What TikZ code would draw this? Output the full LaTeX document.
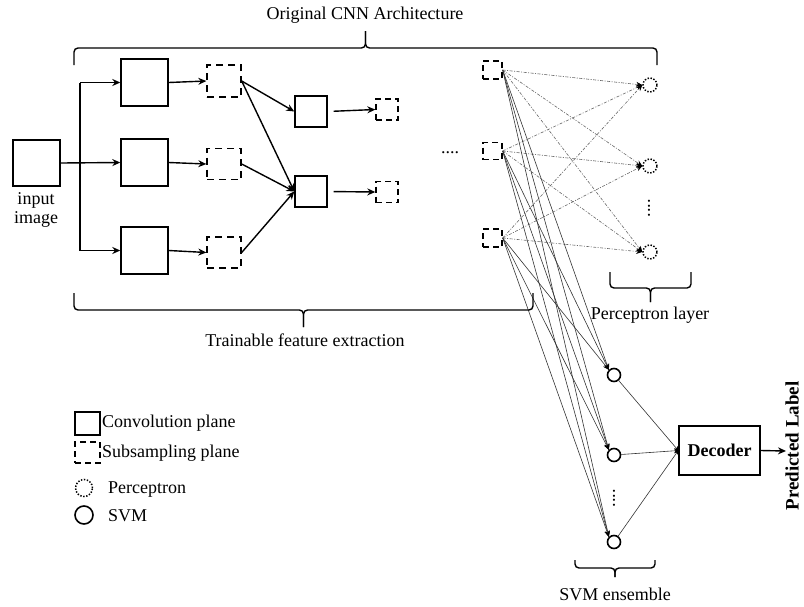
\documentclass[tikz,border=0pt]{standalone}
\usepackage{fontspec}
\setmainfont{Liberation Serif}
\usetikzlibrary{arrows.meta}
\begin{document}
\begin{tikzpicture}[x=1pt,y=-1pt,
  every node/.style={font=\fontsize{18}{20}\selectfont},
  plane/.style={draw, line width=1.4pt, inner sep=0pt},
  subplane/.style={draw, line width=1.4pt, inner sep=0pt, dash pattern=on 7pt off 5pt},
  percnode/.style={draw, circle, line width=1.5pt, dash pattern=on 1.4pt off 1.6pt, minimum size=14pt, inner sep=0pt},
  svmnode/.style={draw, circle, line width=1.6pt, minimum size=13pt, inner sep=0pt},
  thickarrow/.style={line width=1.4pt, -{Stealth[length=8pt,width=7pt]}},
  perclink/.style={draw=black!60, line width=0.6pt, dash pattern=on 3pt off 1.5pt on 1pt off 1.5pt, -{Stealth[length=6pt,width=5pt,black]}},
  svmlink/.style={draw=black!80, line width=0.6pt, -{Stealth[length=6pt,width=5pt,black]}},
  declink/.style={draw=black!80, line width=0.6pt, -{Stealth[length=4pt,width=5pt,black]}},
  bracepath/.style={line width=1.4pt, rounded corners=4pt}
]
\useasboundingbox (0,0) rectangle (804,606);

% input
\node[plane, minimum width=47pt, minimum height=46pt] (in) at (36.5,163) {};
\node[align=center, inner sep=0pt] (inlbl) at (36,210) {input\\[-1pt]image};

% first convolution planes
\node[plane, minimum width=47pt, minimum height=47pt] (c1a) at (144.5,82.5) {};
\node[plane, minimum width=47pt, minimum height=47pt] (c1b) at (144.5,162.5) {};
\node[plane, minimum width=47pt, minimum height=47pt] (c1c) at (144.5,250.5) {};
% first subsampling planes
\node[subplane, minimum width=34pt, minimum height=32pt] (s1a) at (224,81) {};
\node[subplane, minimum width=34pt, minimum height=31pt] (s1b) at (224,164) {};
\node[subplane, minimum width=34pt, minimum height=31pt] (s1c) at (224,252.5) {};
% second convolution planes
\node[plane, minimum width=32pt, minimum height=31pt] (c2a) at (311,111.5) {};
\node[plane, minimum width=32pt, minimum height=31pt] (c2b) at (311,191.5) {};
% second subsampling planes
\node[subplane, minimum width=22pt, minimum height=21pt, dash pattern=on 6pt off 4pt] (s2a) at (387,109.5) {};
\node[subplane, minimum width=22pt, minimum height=21pt, dash pattern=on 6pt off 4pt] (s2b) at (387,192) {};
% dots
\node (hdots) at (450,153) {....};
% last subsampling planes
\node[subplane, minimum width=19pt, minimum height=18pt, dash pattern=on 6pt off 4pt] (s3a) at (492.5,70) {};
\node[subplane, minimum width=19pt, minimum height=17pt, dash pattern=on 6pt off 4pt] (s3b) at (492.5,151) {};
\node[subplane, minimum width=19pt, minimum height=18pt, dash pattern=on 6pt off 4pt] (s3c) at (492.5,238) {};

% perceptrons
\node[percnode] (p1) at (650,85) {};
\node[percnode] (p2) at (650,166) {};
\node[percnode] (p3) at (650,252) {};
\node[inner sep=0pt] (pdots) at (649,208) {\rotatebox{90}{....}};

% SVMs
\node[svmnode] (v1) at (614,375) {};
\node[svmnode] (v2) at (614,455) {};
\node[svmnode] (v3) at (614,542) {};
\node[inner sep=0pt] (vdots) at (614,498) {\rotatebox{90}{....}};

% decoder
\node[plane, minimum width=81pt, minimum height=49pt, font=\fontsize{18}{20}\selectfont\bfseries] (dec) at (719.5,450.5) {Decoder};
\coordinate (outpt) at (786,451);
\node[rotate=90, font=\fontsize{19}{21}\selectfont\bfseries, inner sep=0pt] (plabel) at (792,446) {Predicted Label};

% main CNN connectors
\coordinate (split) at (80,163);
\coordinate (sa) at (80,82.5);
\coordinate (sc) at (80,250.5);
\draw[line width=1.4pt] (sa) -- (sc);
\draw[thickarrow] (in.east) -- (c1b.west);
\draw[thickarrow] (sa) -- (c1a.west);
\draw[thickarrow] (sc) -- (c1c.west);
\draw[thickarrow] (c1a.east) -- (s1a.west);
\draw[thickarrow] (c1b.east) -- (s1b.west);
\draw[thickarrow] (c1c.east) -- (s1c.west);
\draw[thickarrow] (s1a.east) -- (c2a.west);
\draw[thickarrow] (s1a.east) -- (c2b.west);
\draw[thickarrow] (s1b.east) -- (c2b.west);
\draw[thickarrow] (s1c.east) -- (c2b.west);
\draw[thickarrow, shorten <=6pt] (c2a.east) -- (s2a.west);
\draw[thickarrow, shorten <=6pt] (c2b.east) -- (s2b.west);

% perceptron connectors
\foreach \s in {s3a,s3b,s3c}{
  \foreach \p in {p1,p2,p3}{
    \draw[perclink] (\s.east) -- (\p.west);
  }
}
% SVM connectors
\foreach \s in {s3a,s3b,s3c}{
  \foreach \v in {v1,v2,v3}{
    \draw[svmlink] (\s.east) -- (\v.north west);
  }
}
% SVM to decoder
\foreach \v in {v1,v2,v3}{
  \draw[declink] (\v) -- (dec.west);
}
\draw[thickarrow] (dec.east) -- (outpt);

% braces
\draw[bracepath] (74,65) -- (74,48) -- (365.5,48) -- (365.5,31);
\draw[bracepath] (365.5,31) -- (365.5,48) -- (657,48) -- (657,65);
\node (toplbl) at (365,15) {Original CNN Architecture};

\draw[bracepath] (74,293) -- (74,310) -- (303.5,310) -- (303.5,327);
\draw[bracepath] (303.5,327) -- (303.5,310) -- (533,310) -- (533,293);
\node (botlbl) at (305,340) {Trainable feature extraction};

\draw[bracepath] (610,272) -- (610,288) -- (650.5,288) -- (650.5,302);
\draw[bracepath] (650.5,302) -- (650.5,288) -- (691,288) -- (691,272);
\node (perclbl) at (650,315) {Perceptron layer};

\draw[bracepath] (575,560) -- (575,568) -- (615,568) -- (615,577);
\draw[bracepath] (615,577) -- (615,568) -- (655,568) -- (655,560);
\node (svmlbl) at (615,594) {SVM ensemble};

% legend
\node[plane, minimum width=25pt, minimum height=23pt] (lconv) at (87.5,423.5) {};
\node[anchor=west, inner sep=0pt] (lconvt) at (102,423) {Convolution plane};
\node[subplane, minimum width=25pt, minimum height=21pt, dash pattern=on 6pt off 4pt] (lsub) at (87.5,452.5) {};
\node[anchor=west, inner sep=0pt] (lsubt) at (102,453) {Subsampling plane};
\node[percnode, minimum size=17pt] (lperc) at (84,488) {};
\node[anchor=west, inner sep=0pt] (lperct) at (108,490) {Perceptron};
\node[svmnode, minimum size=18pt] (lsvm) at (84,515) {};
\node[anchor=west, inner sep=0pt] (lsvmt) at (108,516) {SVM};
\end{tikzpicture}
\end{document}
